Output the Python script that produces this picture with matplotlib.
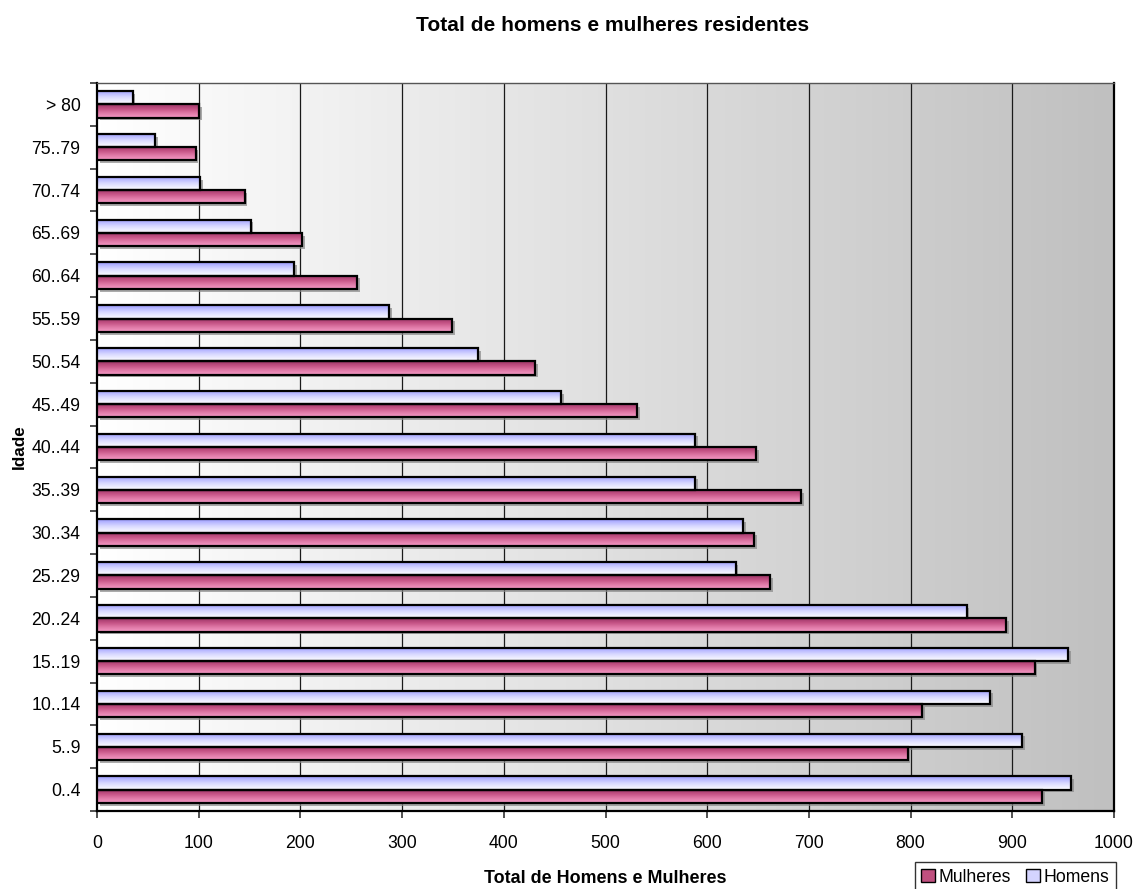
import numpy as np
import matplotlib
matplotlib.use("Agg")
import matplotlib.pyplot as plt
from matplotlib import font_manager
from matplotlib.colors import LinearSegmentedColormap
from matplotlib.patches import Patch
import matplotlib.patheffects as pe

names = {f.name for f in font_manager.fontManager.ttflist}
narrow = "Liberation Sans Narrow" in names
plt.rcParams['font.family'] = ['Liberation Sans Narrow' if narrow else 'Liberation Sans', 'DejaVu Sans']
scale = 1.0 if narrow else 0.82

age_groups = ["0..4", "5..9", "10..14", "15..19", "20..24", "25..29", "30..34",
              "35..39", "40..44", "45..49", "50..54", "55..59", "60..64",
              "65..69", "70..74", "75..79", "> 80"]
homens = [958, 910, 878, 955, 855, 628, 635, 588, 588, 456, 375, 287, 194,
          151, 101, 57, 35]
mulheres = [929, 797, 811, 922, 894, 662, 646, 692, 648, 531, 431, 349, 256,
            202, 145, 97, 100]
x_ticks = [0, 100, 200, 300, 400, 500, 600, 700, 800, 900, 1000]

fig = plt.figure(figsize=(11.35, 8.89), dpi=100)
ax = fig.add_axes([0.0855, 0.0877, 0.896, 0.819])

# horizontal background gradient: white on the left to grey on the right
bg = LinearSegmentedColormap.from_list("bg", ["#ffffff", "#c0c0c0"])
ax.imshow(np.linspace(0, 1, 256).reshape(1, -1), cmap=bg, aspect='auto',
          extent=[0, 1, 0, 1], transform=ax.transAxes, zorder=0)

n = len(age_groups)
y = np.arange(n)
h = 0.31

pink = LinearSegmentedColormap.from_list("pink", ["#f59ac6", "#e07aa8", "#c45284", "#9a3566"])
blue = LinearSegmentedColormap.from_list("blue", ["#ffffff", "#d8d8ff", "#9c9cff"])

def gradient_bars(ypos, values, cmap, label):
    base = ax.barh(ypos, values, height=h, color=cmap(0.5), edgecolor='none',
                   zorder=2, label=label,
                   path_effects=[pe.SimplePatchShadow(offset=(2, -2), shadow_rgbFace='#888888', alpha=0.7),
                                 pe.Normal()])
    grad = np.linspace(0, 1, 64).reshape(-1, 1)
    for patch in base.patches:
        x0, y0 = patch.get_x(), patch.get_y()
        w, hh = patch.get_width(), patch.get_height()
        im = ax.imshow(grad, cmap=cmap, aspect='auto', origin='lower',
                       extent=[x0, x0 + w, y0, y0 + hh], zorder=3,
                       interpolation='bilinear')
        im.set_clip_path(patch)
    ax.barh(ypos, values, height=h, fill=False, edgecolor='black',
            linewidth=1.6, zorder=4)
    return base

gradient_bars(y - h / 2, mulheres, pink, "Mulheres")
gradient_bars(y + h / 2, homens, blue, "Homens")

ax.set_xlim(0, 1000)
ax.set_ylim(-0.5, n - 0.5)

for xv in x_ticks[1:-1]:
    ax.axvline(xv, color='#1a1a1a', linewidth=0.9, zorder=1)

ax.set_xticks(x_ticks)
ax.set_xticklabels([str(v) for v in x_ticks], fontsize=15.5 * scale)
ax.set_yticks(y)
ax.set_yticklabels(age_groups, fontsize=15.5 * scale)
ax.tick_params(axis='y', which='major', length=0, pad=12)
ax.set_yticks(np.arange(-0.5, n, 1.0), minor=True)
ax.tick_params(axis='y', which='minor', length=5, width=1.2, color='#333333')
ax.tick_params(axis='x', which='major', length=5, width=1.2, color='#333333', pad=12)

for s in ax.spines.values():
    s.set_linewidth(1.6)
    s.set_color('black')
ax.spines['top'].set_color('#555555')
ax.spines['top'].set_linewidth(1.0)

fig.text(0.54, 0.971, "Total de homens e mulheres residentes", ha='center',
         va='center', fontsize=18.5 * scale, fontweight='bold')
ax.set_xlabel("Total de Homens e Mulheres", fontsize=15.7 * scale, fontweight='bold', labelpad=13.5)
ax.set_ylabel("Idade", fontsize=15 * scale, fontweight='bold', labelpad=3)

handles = [Patch(facecolor='#c0507f', edgecolor='black', label='Mulheres'),
           Patch(facecolor='#d4d4ff', edgecolor='black', label='Homens')]
fig.legend(handles=handles, loc='lower right', bbox_to_anchor=(0.983, -0.004),
           ncol=2, fontsize=15.5 * scale, frameon=True, fancybox=False, edgecolor='black',
           handlelength=0.75, handleheight=0.75, handletextpad=0.2,
           columnspacing=0.9, borderpad=0.38, borderaxespad=0.0)

fig.savefig("out.png", dpi=100)
